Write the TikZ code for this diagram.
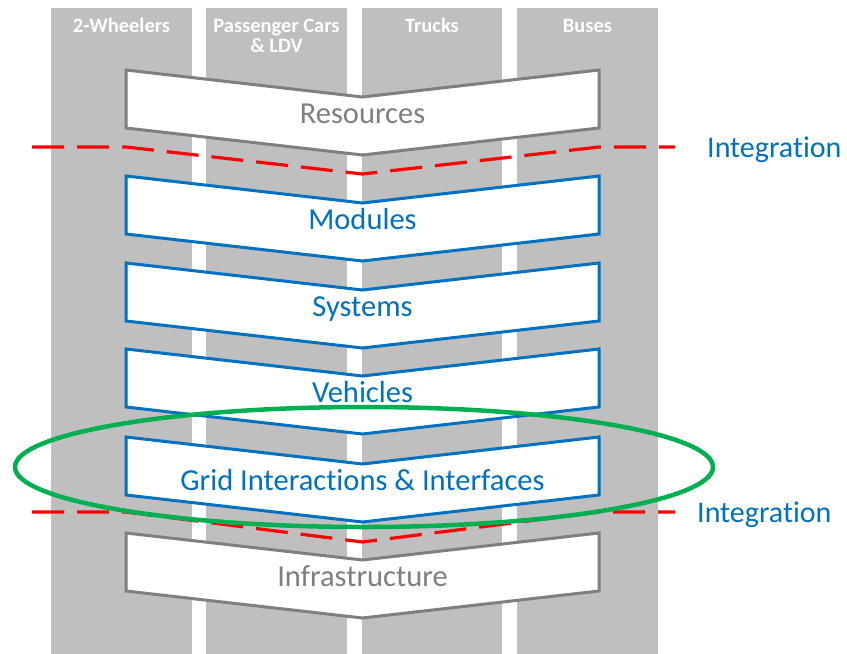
\documentclass[tikz,border=0pt]{standalone}
\usepackage{fontspec}
\setmainfont{Carlito}[Ligatures=NoCommon]
\usetikzlibrary{shapes.geometric}
\definecolor{colgray}{HTML}{BFBFBF}
\definecolor{myblue}{HTML}{0070C0}
\definecolor{mygray}{HTML}{7F7F7F}
\definecolor{mygreen}{HTML}{00B050}
\definecolor{myred}{HTML}{FF0000}
\tikzset{
  lane/.style={fill=colgray, draw=none},
  lanehead/.style={font=\bfseries\fontsize{20.5}{22}\selectfont, text=white, anchor=base, align=center, inner sep=0pt},
  chevtext/.style={font=\fontsize{30.5}{33}\selectfont, anchor=base, inner sep=0pt},
  integ/.style={draw=myred, line width=3.2pt, dash pattern=on 32pt off 13pt},
  integtext/.style={font=\fontsize{30}{33}\selectfont, text=myblue, anchor=base west, inner sep=0pt},
}
\newcommand{\mychev}[4]{%
  \filldraw[fill=white, draw=#2, line width=3pt, line join=miter]
    (126,#1) -- (362.5,#1+27) -- (599,#1) -- (599,#1+58) -- (362.5,#1+85) -- (126,#1+58) -- cycle;
  \node[chevtext, text=#2] (#4) at (362.5,#1+53) {#3};
}
\begin{document}
\begin{tikzpicture}[x=1pt,y=-1pt]
\useasboundingbox[fill=white] (0,0) rectangle (847,654);
% lanes
\fill[lane] (51,8) rectangle (192,654);
\fill[lane] (206,8) rectangle (347,654);
\fill[lane] (362,8) rectangle (502,654);
\fill[lane] (517,8) rectangle (658,654);
\node[lanehead] (h1) at (121.5,32) {2-Wheelers};
\node[lanehead] (h2) at (276.5,32) {Passenger Cars};
\node[lanehead] (h2b) at (276.5,52) {\& LDV};
\node[lanehead] (h3) at (432,32) {Trucks};
\node[lanehead] (h4) at (587.5,32) {Buses};
% chevrons
\mychev{70}{mygray}{Resources}{res}
\mychev{176}{myblue}{Modules}{mod}
\mychev{263}{myblue}{Systems}{sys}
\mychev{349}{myblue}{Vehicles}{veh}
\mychev{437}{myblue}{Grid Interactions \& Interfaces}{grid}
\mychev{533}{mygray}{Infrastructure}{inf}
% integration lines
\coordinate (i1a) at (32,147);
\coordinate (i1b) at (126,147);
\coordinate (i1c) at (362.5,174);
\coordinate (i1d) at (599,147);
\coordinate (i1e) at (675,147);
\draw[integ] (i1a) -- (i1b) -- (i1c) -- (i1d) -- (i1e);
\node[integtext] (int1) at (707,157) {Integration};
\coordinate (i2a) at (32,512);
\coordinate (i2b) at (126,512);
\coordinate (i2c) at (362.5,542);
\coordinate (i2d) at (599,512);
\coordinate (i2e) at (675,512);
\draw[integ] (i2a) -- (i2b) -- (i2c) -- (i2d) -- (i2e);
\node[integtext] (int2) at (697,522) {Integration};
% green ellipse
\node[ellipse, draw=mygreen, line width=4.5pt, minimum width=698pt, minimum height=120pt, inner sep=0pt, outer sep=0pt] (ell) at (364,467) {};
\end{tikzpicture}
\end{document}
